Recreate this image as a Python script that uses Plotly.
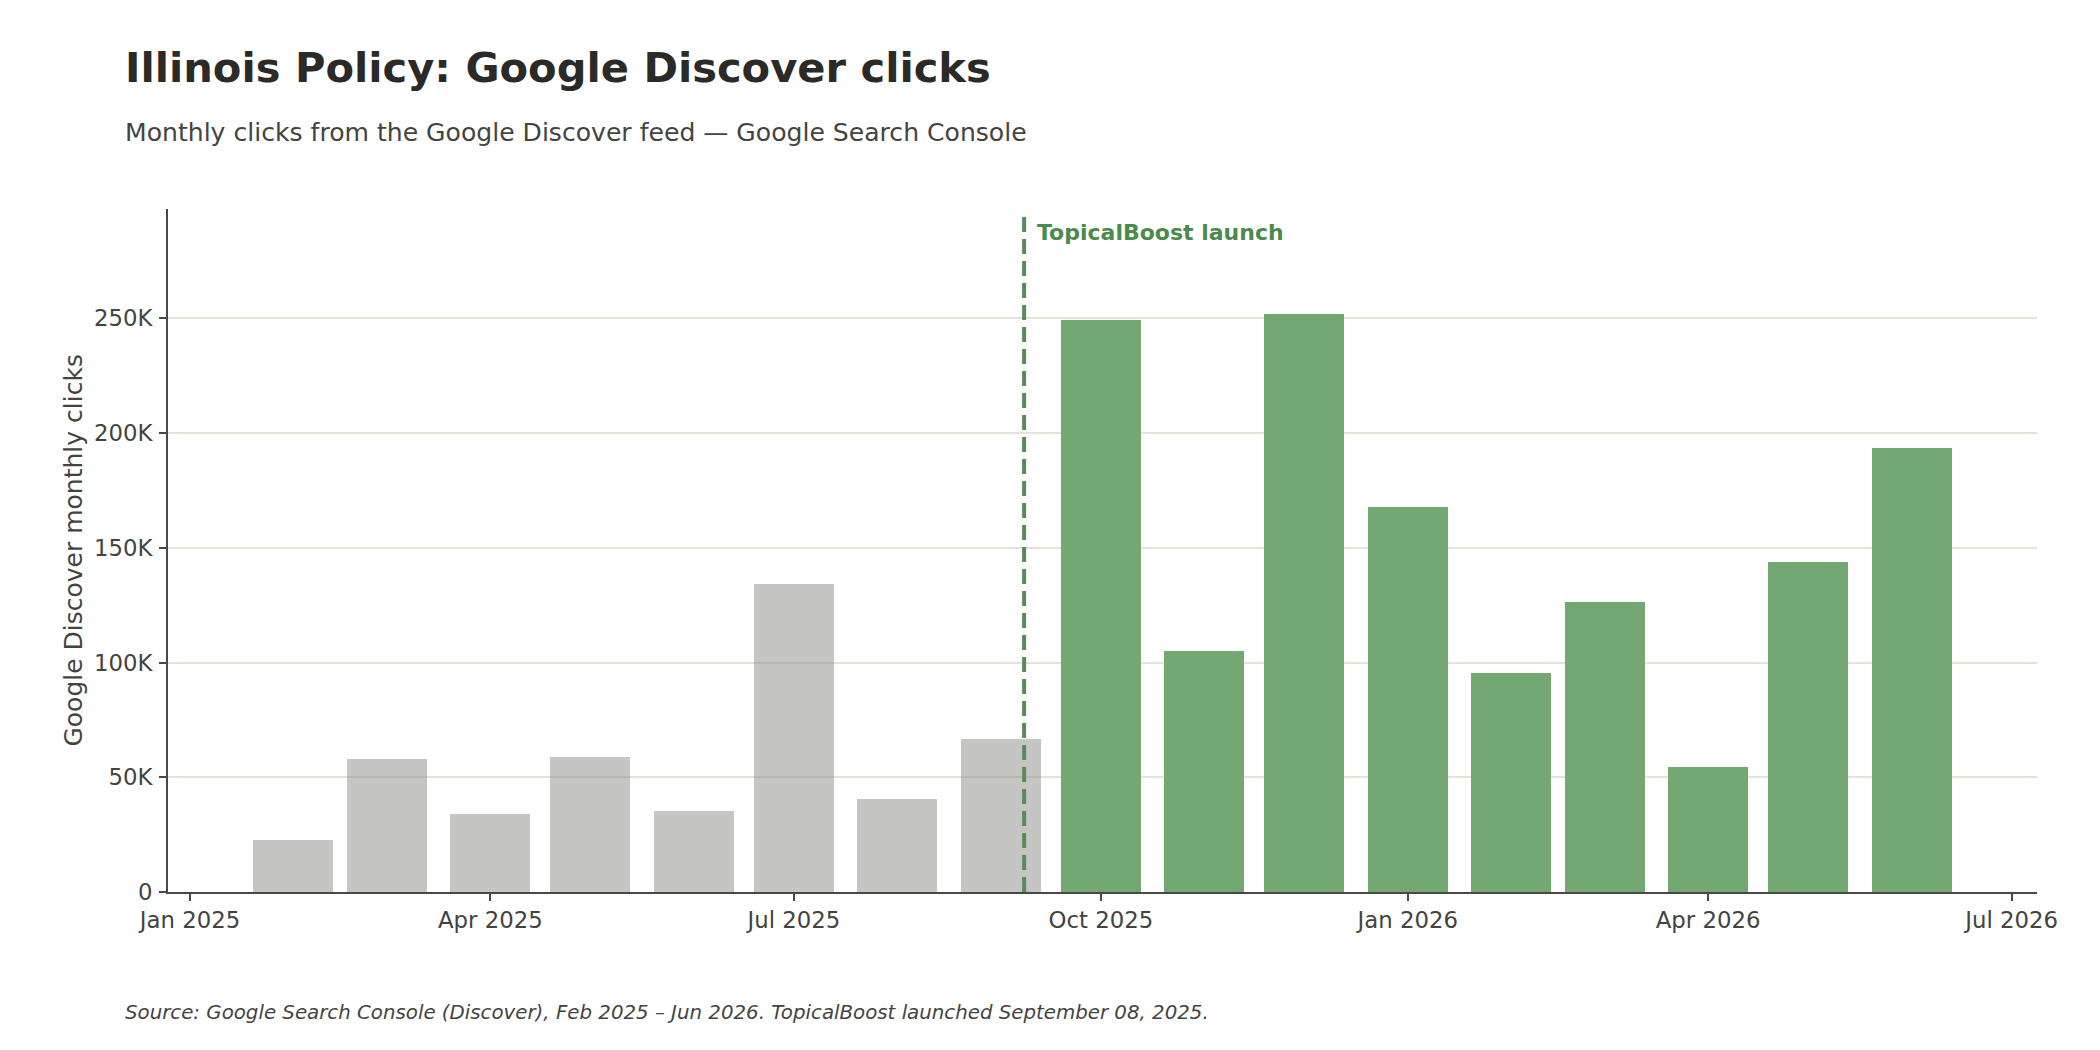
import plotly.graph_objects as go

# ---- data ----
months = ["2025-02-01", "2025-03-01", "2025-04-01", "2025-05-01", "2025-06-01",
          "2025-07-01", "2025-08-01", "2025-09-01", "2025-10-01", "2025-11-01",
          "2025-12-01", "2026-01-01", "2026-02-01", "2026-03-01", "2026-04-01",
          "2026-05-01", "2026-06-01"]
clicks = [22600, 57900, 34000, 58800, 35300, 134200, 40500, 66700,
          249300, 105000, 252000, 167800, 95400, 126400, 54500, 143800, 193500]
launch_date = "2025-09-08"
launch_label = "TopicalBoost launch"

x_tickvals = ["2025-01-01", "2025-04-01", "2025-07-01", "2025-10-01",
              "2026-01-01", "2026-04-01", "2026-07-01"]
x_ticktext = ["Jan 2025", "Apr 2025", "Jul 2025", "Oct 2025",
              "Jan 2026", "Apr 2026", "Jul 2026"]
y_tickvals = [0, 50000, 100000, 150000, 200000, 250000]
y_ticktext = ["0", "50K", "100K", "150K", "200K", "250K"]

title = "Illinois Policy: Google Discover clicks"
subtitle = "Monthly clicks from the Google Discover feed \u2014 Google Search Console"
footer = ("Source: Google Search Console (Discover), Feb 2025 \u2013 Jun 2026. "
          "TopicalBoost launched September 08, 2025.")
y_title = "Google Discover monthly clicks"

# ---- styles ----
GREY = "rgba(140,140,136,0.5)"
GREEN = "#74a873"
LINE_GREEN = "#568c59"
TEXT_GREEN = "#4a8a4c"
AXIS = "#4a4a44"
FONT = "DejaVu Sans"
TICK_SIZE = 22.8

colors = [GREY if m < launch_date else GREEN for m in months]

fig = go.Figure()
fig.add_trace(go.Bar(
    x=months, y=clicks,
    width=24 * 86400000,
    marker=dict(color=colors, line=dict(width=0)),
    showlegend=False,
))

fig.add_shape(type="line", xref="x", yref="paper",
              x0=launch_date, x1=launch_date, y0=0, y1=0.991,
              line=dict(color=LINE_GREEN, width=4, dash="15px,7px"),
              layer="above")

fig.add_annotation(x=launch_date, y=0.9663, xref="x", yref="paper",
                   text="<b>" + launch_label + "</b>", showarrow=False,
                   xanchor="left", yanchor="middle", xshift=11,
                   font=dict(family=FONT, size=22, color=TEXT_GREEN))

fig.add_annotation(x=-0.0239, y=1.2075, xref="paper", yref="paper",
                   text="<b>" + title + "</b>", showarrow=False,
                   xanchor="left", yanchor="middle",
                   font=dict(family=FONT, size=41.6, color="#2b2a26"))
fig.add_annotation(x=-0.0239, y=1.112, xref="paper", yref="paper",
                   text=subtitle, showarrow=False,
                   xanchor="left", yanchor="middle",
                   font=dict(family=FONT, size=25.1, color="#44443f"))
fig.add_annotation(x=-0.0239, y=-0.176, xref="paper", yref="paper",
                   text="<i>" + footer + "</i>", showarrow=False,
                   xanchor="left", yanchor="middle",
                   font=dict(family=FONT, size=19.8, color="#44443f"))
fig.add_annotation(x=-0.0508, y=0.5, xref="paper", yref="paper",
                   text=y_title, showarrow=False, textangle=-90,
                   xanchor="center", yanchor="middle",
                   font=dict(family=FONT, size=25, color="#44443f"))

fig.update_layout(
    width=2100, height=1050,
    margin=dict(l=168, r=63, t=209, b=158, pad=0),
    paper_bgcolor="white", plot_bgcolor="white",
    font=dict(family=FONT, size=TICK_SIZE, color="#44443f"),
    bargap=0,
)
fig.update_xaxes(
    type="date",
    range=["2024-12-25 09:36", "2026-07-08 14:00"],
    tickvals=x_tickvals, ticktext=x_ticktext,
    showgrid=False, zeroline=False,
    showline=True, linecolor=AXIS, linewidth=2,
    ticks="outside", ticklen=7, tickwidth=2, tickcolor=AXIS,
    tickfont=dict(family=FONT, size=TICK_SIZE, color="#44443f"),
)
fig.update_yaxes(
    range=[0, 297700],
    tickvals=y_tickvals, ticktext=y_ticktext,
    showgrid=True, gridcolor="#e6e2d8", gridwidth=2,
    zeroline=False,
    showline=True, linecolor=AXIS, linewidth=2,
    ticks="outside", ticklen=7, tickwidth=2, tickcolor=AXIS,
    ticklabelstandoff=2,
    tickfont=dict(family=FONT, size=TICK_SIZE, color="#44443f"),
)

fig.write_html("out.html")
